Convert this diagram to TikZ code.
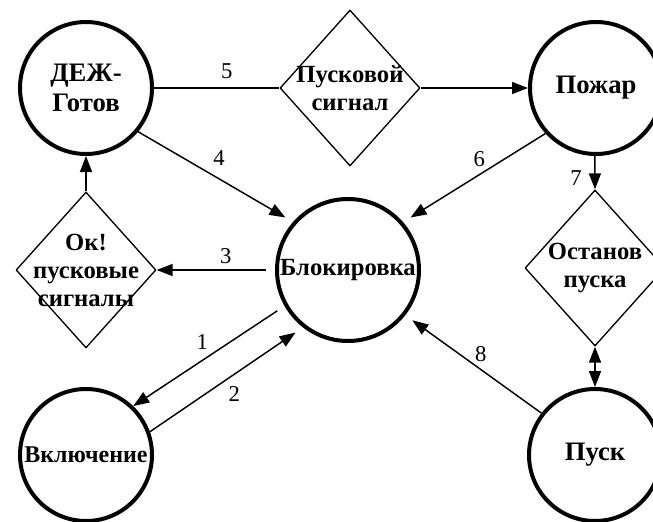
\documentclass[tikz,border=0pt]{standalone}
\usepackage{fontspec}
\setmainfont{Liberation Serif}
\usetikzlibrary{shapes.geometric,arrows.meta}
\begin{document}
\begin{tikzpicture}[x=0.75pt, y=-0.75pt, line join=round, >={Triangle[length=12pt,width=9pt]},
	state/.style={circle, draw, line width=3pt, minimum size=99pt, inner sep=0pt, align=center, font=\fontsize{20}{22}\selectfont\bfseries},
	cond/.style={diamond, draw, line width=1pt, minimum width=105pt, minimum height=117pt, inner sep=-14pt, align=center, font=\fontsize{18.5}{21}\selectfont\bfseries},
	link/.style={line width=1.1pt},
	num/.style={font=\fontsize{17}{17}\selectfont}]
	\useasboundingbox (0,0) rectangle (653,521);
	% states
	\node[state] (dej) at (86,88) {ДЕЖ-\\Готов};
	\node[state] (pozh) at (596,88) {Пожар};
	\node[state, minimum size=106.5pt, outer sep=8pt, font=\fontsize{18.5}{21}\selectfont\bfseries] (blok) at (348,270) {Блокировка};
	\node[state, font=\fontsize{18}{21}\selectfont\bfseries] (vkl) at (86,455) {Включение};
	\node[state] (pusk) at (595,455) {Пуск};
	% conditions
	\node[cond] (sig) at (350,88) {Пусковой\\сигнал};
	\node[cond] (ok) at (86,270) {Ок!\\пусковые\\сигналы};
	\node[cond] (ost) at (595,268) {Останов\\пуска};
	% transitions
	\draw[link] (dej.east) -- node[num, above=3pt, pos=0.58]{5} (sig.west);
	\draw[link, ->] (sig.east) -- (pozh.west);
	\draw[link, ->] (dej.-40) -- node[num, above=6pt, pos=0.55]{4} (blok.140);
	\draw[link, ->] (pozh.-138) -- node[num, above=2pt, pos=0.49]{6} (blok.40);
	\draw[link, ->] (pozh.-91) -- node[num, left=6pt, pos=0.65]{7} (ost.north);
	\draw[link, ->] (blok.west) -- node[num, above=1pt, pos=0.37]{3} (ok.east);
	\draw[link, ->] (ok.north) -- (dej.south);
	\draw[link, ->] (blok.210) -- node[num, above=4pt, pos=0.52]{1} (vkl.46);
	\draw[link, ->] (vkl.20) -- node[num, below=5pt, pos=0.58]{2} (blok.230);
	\draw[link, ->] (pusk.142) -- node[num, above=2pt, pos=0.47]{8} (blok.-38);
	\draw[link, <->] (ost.south) -- (pusk.north);
\end{tikzpicture}
\end{document}
